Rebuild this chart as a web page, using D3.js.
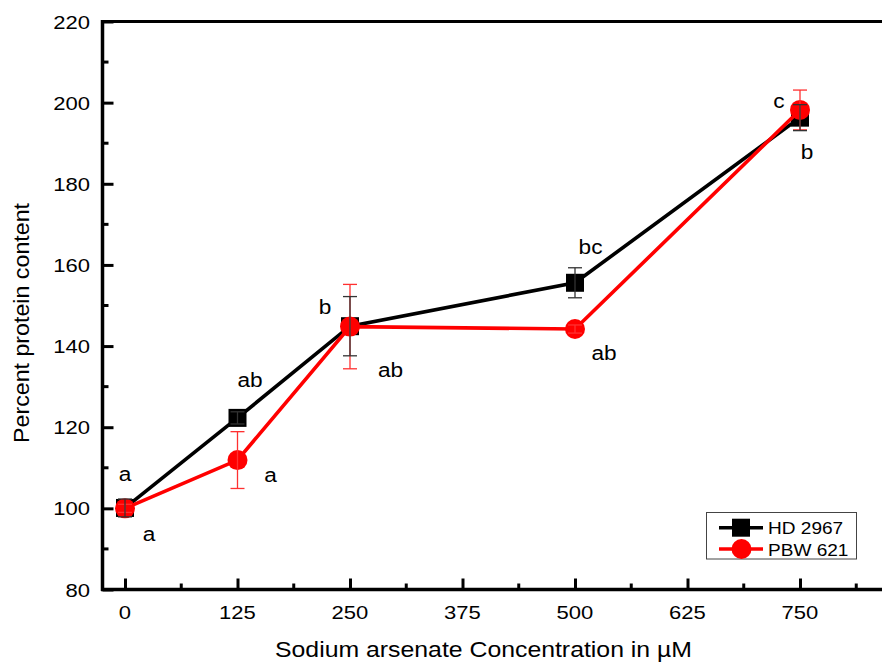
<!DOCTYPE html>
<html><head><meta charset="utf-8">
<script src="https://cdn.jsdelivr.net/npm/d3@7/dist/d3.min.js"></script>
<style>body{margin:0;background:#fff}svg{display:block}text{font-family:"Liberation Sans",Arial,sans-serif}</style>
</head><body><svg id="c" width="882" height="662"></svg>
<script>
const concentrations = [0, 125, 250, 500, 750];
const hdValues = [100.1, 122.3, 144.9, 155.6, 196.3];
const hdErrors = [2.2, 1.5, 7.3, 3.7, 3.2];
const pbwValues = [100.0, 111.9, 144.8, 144.2, 198.2];
const pbwErrors = [1.0, 7.0, 10.4, 1.0, 4.9];
const xTicks = [0, 125, 250, 375, 500, 625, 750];
const yTicks = [80, 100, 120, 140, 160, 180, 200, 220];
const letterLabels = [
  {x: 0, y: 100.1, t: "a"},
  {x: 0, y: 100.0, t: "a"},
  {x: 125, y: 122.3, t: "ab"},
  {x: 125, y: 111.9, t: "a"},
  {x: 250, y: 144.9, t: "b"},
  {x: 250, y: 144.8, t: "ab"},
  {x: 500, y: 155.6, t: "bc"},
  {x: 500, y: 144.2, t: "ab"},
  {x: 750, y: 198.2, t: "c"},
  {x: 750, y: 196.3, t: "b"}
];
// label offsets in px from the point (layout, not data)
const labelOffsets = [[0,-27.4],[24,32.7],[12.5,-31],[33,22.3],[-25,-12],[40.5,50.6],[15.5,-28.4],[29,31],[-21,-2],[7,41]];

const SX = 1.16;
const svg = d3.select("#c");
const x = d3.scaleLinear().domain([-25, 875]).range([102.5, 912.5]);
const y = d3.scaleLinear().domain([80, 220]).range([589.5, 21.5]);

function txt(g, px, py, s, size, anchor, sx) {
  return g.append("text").attr("transform", `translate(${px},${py}) scale(${sx || SX},1)`)
    .attr("text-anchor", anchor || "middle").attr("font-size", size).text(s);
}

// frame top line
svg.append("line").attr("x1", 102.5).attr("x2", 882).attr("y1", y(220)).attr("y2", y(220))
  .attr("stroke", "#000").attr("stroke-width", 3);

// y axis
const yAxis = d3.axisRight(y).tickValues(yTicks).tickSize(11).tickFormat("");
const gy = svg.append("g").attr("transform", `translate(${x(-25)},0)`).call(yAxis);
gy.select(".domain").remove();
gy.selectAll(".tick line").attr("stroke-width", 3);
const yMinor = d3.range(90, 220, 20);
svg.append("g").selectAll("line").data(yMinor).join("line")
  .attr("x1", x(-25)).attr("x2", x(-25) + 6).attr("y1", d => y(d)).attr("y2", d => y(d))
  .attr("stroke", "#000").attr("stroke-width", 3);
svg.append("line").attr("x1", x(-25)).attr("x2", x(-25)).attr("y1", y(220) - 1.5).attr("y2", y(80) + 1.5)
  .attr("stroke", "#000").attr("stroke-width", 3.5);
const gyl = svg.append("g");
yTicks.forEach(d => txt(gyl, 90, y(d) + 7, d, 19, "end"));

// x axis
const xAxis = d3.axisTop(x).tickValues(xTicks).tickSize(11).tickFormat("");
const gx = svg.append("g").attr("transform", `translate(0,${y(80)})`).call(xAxis);
gx.select(".domain").remove();
gx.selectAll(".tick line").attr("stroke-width", 3);
const xMinor = d3.range(62.5, 875, 125);
svg.append("g").selectAll("line").data(xMinor).join("line")
  .attr("x1", d => x(d)).attr("x2", d => x(d)).attr("y1", y(80)).attr("y2", y(80) - 6)
  .attr("stroke", "#000").attr("stroke-width", 3);
svg.append("line").attr("x1", x(-25) - 1.5).attr("x2", 882).attr("y1", y(80)).attr("y2", y(80))
  .attr("stroke", "#000").attr("stroke-width", 3.5);
const gxl = svg.append("g");
xTicks.forEach(d => txt(gxl, x(d), 619, d, 19, "middle"));

// axis titles
svg.append("text").attr("x", 483.5).attr("y", 657).attr("text-anchor", "middle")
  .attr("font-size", 22).attr("textLength", 417).attr("lengthAdjust", "spacingAndGlyphs")
  .text("Sodium arsenate Concentration in µM");
svg.append("text").attr("transform", `translate(29,323) rotate(-90)`).attr("text-anchor", "middle")
  .attr("font-size", 22).attr("textLength", 240).attr("lengthAdjust", "spacingAndGlyphs")
  .text("Percent protein content");

const line = d3.line().x(d => x(d[0])).y(d => y(d[1]));
const hd = concentrations.map((c, i) => [c, hdValues[i], hdErrors[i]]);
const pbw = concentrations.map((c, i) => [c, pbwValues[i], pbwErrors[i]]);

svg.append("path").datum(hd).attr("d", line).attr("fill", "none").attr("stroke", "#000").attr("stroke-width", 3.6);
svg.append("g").selectAll("rect").data(hd).join("rect")
  .attr("x", d => x(d[0]) - 9).attr("y", d => y(d[1]) - 9).attr("width", 18).attr("height", 18).attr("fill", "#000");
svg.append("path").datum(pbw).attr("d", line).attr("fill", "none").attr("stroke", "#ff0000").attr("stroke-width", 3.6);
svg.append("g").selectAll("circle").data(pbw).join("circle")
  .attr("cx", d => x(d[0])).attr("cy", d => y(d[1])).attr("r", 10).attr("fill", "#ff0000");

function errBars(data, color) {
  const g = svg.append("g").attr("stroke", color).attr("stroke-width", 1.3);
  data.forEach(d => {
    const cx = x(d[0]), t = y(d[1] + d[2]), b = y(d[1] - d[2]);
    g.append("line").attr("x1", cx).attr("x2", cx).attr("y1", t).attr("y2", b);
    g.append("line").attr("x1", cx - 7).attr("x2", cx + 7).attr("y1", t).attr("y2", t);
    g.append("line").attr("x1", cx - 7).attr("x2", cx + 7).attr("y1", b).attr("y2", b);
  });
}
errBars(pbw, "#ff3030");
errBars(hd, "#333");

// letters
const gl = svg.append("g");
letterLabels.forEach((d, i) => txt(gl, x(d.x) + labelOffsets[i][0], y(d.y) + labelOffsets[i][1], d.t, 19.5, "middle"));

// legend
const lg = svg.append("g");
lg.append("rect").attr("x", 706.5).attr("y", 512.5).attr("width", 150).attr("height", 46.5)
  .attr("fill", "#fff").attr("stroke", "#444").attr("stroke-width", 1);
const legendItems = [{name: "HD 2967", color: "#000", shape: "square"}, {name: "PBW 621", color: "#ff0000", shape: "circle"}];
legendItems.forEach((it, i) => {
  const cy = 527.7 + i * 21.3;
  lg.append("line").attr("x1", 719).attr("x2", 763).attr("y1", cy).attr("y2", cy)
    .attr("stroke", it.color).attr("stroke-width", 3.6);
  if (it.shape === "square") lg.append("rect").attr("x", 732).attr("y", cy - 9).attr("width", 18).attr("height", 18).attr("fill", it.color);
  else lg.append("circle").attr("cx", 741.5).attr("cy", cy).attr("r", 10).attr("fill", it.color);
  txt(lg, 768, cy + 6.5, it.name, 16.3, "start", 1.17);
});
</script></body></html>
